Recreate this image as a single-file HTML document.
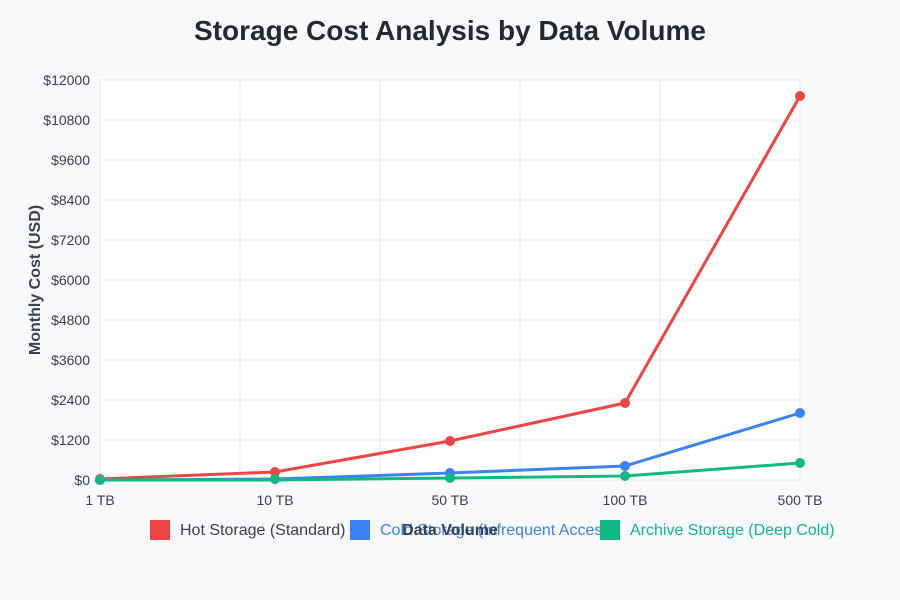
<!DOCTYPE html>
<html><head><meta charset="utf-8"><style>
html,body{margin:0;padding:0;background:#f8f9fb;}
svg{display:block;font-family:"Liberation Sans",sans-serif;}
</style></head><body>
<svg width="900" height="600" viewBox="0 0 900 600">
<rect width="900" height="600" fill="#f8f9fb"/>
<text x="450" y="40" text-anchor="middle" font-size="28" font-weight="bold" fill="#1f2937">Storage Cost Analysis by Data Volume</text>
<rect x="100" y="80" width="700" height="400" fill="#ffffff"/>
<g stroke="#e5e7eb" stroke-width="1">
<line x1="100" y1="80" x2="800" y2="80"/><line x1="100" y1="120" x2="800" y2="120"/><line x1="100" y1="160" x2="800" y2="160"/><line x1="100" y1="200" x2="800" y2="200"/><line x1="100" y1="240" x2="800" y2="240"/><line x1="100" y1="280" x2="800" y2="280"/><line x1="100" y1="320" x2="800" y2="320"/><line x1="100" y1="360" x2="800" y2="360"/><line x1="100" y1="400" x2="800" y2="400"/><line x1="100" y1="440" x2="800" y2="440"/><line x1="100" y1="480" x2="800" y2="480"/>
<line x1="100" y1="80" x2="100" y2="480"/><line x1="240" y1="80" x2="240" y2="480"/><line x1="380" y1="80" x2="380" y2="480"/><line x1="520" y1="80" x2="520" y2="480"/><line x1="660" y1="80" x2="660" y2="480"/><line x1="800" y1="80" x2="800" y2="480"/>
</g>
<g font-size="14" fill="#374151" text-anchor="end">
<text x="90" y="85">$12000</text><text x="90" y="125">$10800</text><text x="90" y="165">$9600</text><text x="90" y="205">$8400</text><text x="90" y="245">$7200</text><text x="90" y="285">$6000</text><text x="90" y="325">$4800</text><text x="90" y="365">$3600</text><text x="90" y="405">$2400</text><text x="90" y="445">$1200</text><text x="90" y="485">$0</text>
</g>
<g font-size="14" fill="#374151" text-anchor="middle">
<text x="100" y="505">1 TB</text><text x="275" y="505">10 TB</text><text x="450" y="505">50 TB</text><text x="625" y="505">100 TB</text><text x="800" y="505">500 TB</text>
</g>
<text transform="translate(40,280) rotate(-90)" text-anchor="middle" font-size="16" font-weight="bold" fill="#374151">Monthly Cost (USD)</text>
<polyline points="100,479 275,472 450,441 625,403 800,96" fill="none" stroke="#ef4444" stroke-width="3"/>
<polyline points="100,480 275,479 450,473 625,466 800,413" fill="none" stroke="#3b82f6" stroke-width="3"/>
<polyline points="100,480 275,480 450,478 625,476 800,463" fill="none" stroke="#10b981" stroke-width="3"/>
<g fill="#ef4444"><circle cx="100" cy="479" r="5"/><circle cx="275" cy="472" r="5"/><circle cx="450" cy="441" r="5"/><circle cx="625" cy="403" r="5"/><circle cx="800" cy="96" r="5"/></g>
<g fill="#3b82f6"><circle cx="100" cy="480" r="5"/><circle cx="275" cy="479" r="5"/><circle cx="450" cy="473" r="5"/><circle cx="625" cy="466" r="5"/><circle cx="800" cy="413" r="5"/></g>
<g fill="#10b981"><circle cx="100" cy="480" r="5"/><circle cx="275" cy="479" r="5"/><circle cx="450" cy="478" r="5"/><circle cx="625" cy="476" r="5"/><circle cx="800" cy="463" r="5"/></g>
<rect x="150" y="520" width="20" height="20" fill="#ef4444"/>
<text x="180" y="535" font-size="16" fill="#374151">Hot Storage (Standard)</text>
<rect x="350" y="520" width="20" height="20" fill="#3b82f6"/>
<text x="380" y="535" font-size="16" fill="#3b82f6">Cold Storage (Infrequent Access)</text>
<text x="450" y="535" text-anchor="middle" font-size="16" font-weight="bold" fill="#374151">Data Volume</text>
<rect x="600" y="520" width="20" height="20" fill="#10b981"/>
<text x="630" y="535" font-size="16" fill="#10b981">Archive Storage (Deep Cold)</text>
</svg>
</body></html>
